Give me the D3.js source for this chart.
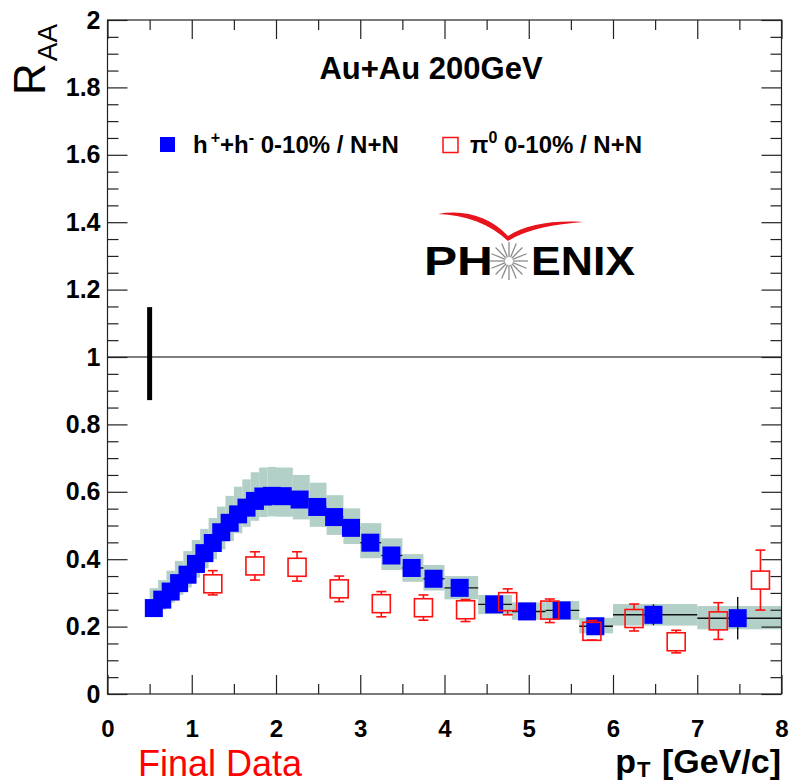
<!DOCTYPE html>
<html>
<head>
<meta charset="utf-8">
<script src="https://cdn.jsdelivr.net/npm/d3@7"></script>
<style>
  body { margin: 0; background: #fff; }
  text { font-family: "Liberation Sans", Arial, Helvetica, sans-serif; }
</style>
</head>
<body>
<svg id="chart" width="790" height="783"></svg>
<script>
// h+ + h- 0-10% / N+N  (mean pT, bin edges, RAA, stat err, sys band edges)
const hadPt    = [0.55, 0.65, 0.75, 0.85, 0.95, 1.05, 1.15, 1.25, 1.35, 1.45, 1.55, 1.65, 1.75, 1.85, 1.95, 2.08,
                  2.28, 2.49, 2.69, 2.89, 3.12, 3.37, 3.61, 3.87, 4.18, 4.59, 4.98, 5.39, 5.79, 6.48, 7.48];
const hadBinLo = [0.5, 0.6, 0.7, 0.8, 0.9, 1.0, 1.1, 1.2, 1.3, 1.4, 1.5, 1.6, 1.7, 1.8, 1.9, 2.0,
                  2.2, 2.4, 2.6, 2.8, 3.0, 3.25, 3.5, 3.75, 4.0, 4.4, 4.8, 5.2, 5.6, 6.0, 7.0];
const hadBinHi = [0.6, 0.7, 0.8, 0.9, 1.0, 1.1, 1.2, 1.3, 1.4, 1.5, 1.6, 1.7, 1.8, 1.9, 2.0, 2.2,
                  2.4, 2.6, 2.8, 3.0, 3.25, 3.5, 3.75, 4.0, 4.4, 4.8, 5.2, 5.6, 6.0, 7.0, 8.0];
const hadRaa   = [0.255, 0.280, 0.304, 0.329, 0.354, 0.386, 0.418, 0.448, 0.480, 0.508, 0.533, 0.553, 0.573, 0.586, 0.588, 0.587,
                  0.577, 0.555, 0.525, 0.493, 0.449, 0.411, 0.374, 0.342, 0.315, 0.266, 0.245, 0.248, 0.201, 0.235, 0.225];
const hadStat  = [0.004, 0.004, 0.004, 0.004, 0.004, 0.004, 0.005, 0.005, 0.005, 0.005, 0.005, 0.006, 0.006, 0.006, 0.006, 0.005,
                  0.006, 0.006, 0.006, 0.007, 0.007, 0.008, 0.009, 0.010, 0.008, 0.010, 0.012, 0.015, 0.020, 0.031, 0.063];
const hadSysHi = [0.314, 0.338, 0.366, 0.395, 0.424, 0.457, 0.490, 0.522, 0.556, 0.588, 0.615, 0.637, 0.658, 0.672, 0.674, 0.672,
                  0.650, 0.627, 0.590, 0.551, 0.507, 0.462, 0.415, 0.383, 0.350, 0.294, 0.272, 0.276, 0.226, 0.267, 0.261];
const hadSysLo = [0.228, 0.250, 0.271, 0.294, 0.316, 0.345, 0.373, 0.400, 0.429, 0.454, 0.477, 0.496, 0.514, 0.525, 0.527, 0.526,
                  0.518, 0.496, 0.472, 0.445, 0.403, 0.368, 0.333, 0.307, 0.281, 0.237, 0.220, 0.220, 0.180, 0.203, 0.192];

// pi0 0-10% / N+N
const pi0Pt    = [1.25, 1.75, 2.25, 2.75, 3.25, 3.75, 4.25, 4.75, 5.25, 5.75, 6.25, 6.75, 7.25, 7.75];
const pi0Raa   = [0.327, 0.380, 0.376, 0.312, 0.268, 0.256, 0.250, 0.274, 0.249, 0.186, 0.224, 0.155, 0.217, 0.338];
const pi0ErrHi = [0.366, 0.422, 0.422, 0.350, 0.304, 0.294, 0.280, 0.312, 0.282, 0.218, 0.267, 0.189, 0.271, 0.427];
const pi0ErrLo = [0.294, 0.338, 0.335, 0.274, 0.229, 0.219, 0.215, 0.235, 0.212, 0.160, 0.187, 0.122, 0.162, 0.249];

// normalisation uncertainty at RAA = 1
const normPt = 0.5;
const normLo = 0.872;
const normHi = 1.148;

const xTicks = [0, 1, 2, 3, 4, 5, 6, 7, 8];
const yTicks = [0, 0.2, 0.4, 0.6, 0.8, 1, 1.2, 1.4, 1.6, 1.8, 2];

const svg = d3.select('#chart');
const plotLeft = 107.5, plotRight = 781.5, plotTop = 20, plotBottom = 694;

const x = d3.scaleLinear().domain([0, 8]).range([plotLeft, plotRight]);
const y = d3.scaleLinear().domain([0, 2]).range([plotBottom, plotTop]);

const had = hadPt.map((pt, i) => ({
  pt, lo: hadBinLo[i], hi: hadBinHi[i], raa: hadRaa[i], stat: hadStat[i], sysHi: hadSysHi[i], sysLo: hadSysLo[i]
}));
const pi0 = pi0Pt.map((pt, i) => ({ pt, raa: pi0Raa[i], hi: pi0ErrHi[i], lo: pi0ErrLo[i] }));

// systematic bands
svg.append('g').selectAll('rect')
  .data(had)
  .enter()
  .append('rect')
  .attr('x', d => x(d.lo))
  .attr('y', d => y(d.sysHi))
  .attr('width', d => x(d.hi) - x(d.lo))
  .attr('height', d => y(d.sysLo) - y(d.sysHi))
  .attr('fill', '#b3d0c8');

// line at 1
svg.append('line')
  .attr('x1', x(0)).attr('x2', x(8))
  .attr('y1', y(1)).attr('y2', y(1))
  .attr('stroke', '#000').attr('stroke-width', 1.2);

svg.append('line')
  .attr('x1', x(normPt)).attr('x2', x(normPt))
  .attr('y1', y(normLo)).attr('y2', y(normHi))
  .attr('stroke', '#000').attr('stroke-width', 5);

// x bin widths and stat errors
const errs = svg.append('g').attr('stroke', '#111').attr('stroke-width', 1.4);
errs.selectAll('.xerr')
  .data(had)
  .enter()
  .append('line')
  .attr('x1', d => x(d.lo)).attr('x2', d => x(d.hi))
  .attr('y1', d => y(d.raa)).attr('y2', d => y(d.raa));
errs.selectAll('.yerr')
  .data(had)
  .enter()
  .append('line')
  .attr('x1', d => x(d.pt)).attr('x2', d => x(d.pt))
  .attr('y1', d => y(d.raa - d.stat)).attr('y2', d => y(d.raa + d.stat));

const sq = 18;

svg.append('g').selectAll('rect')
  .data(had)
  .enter()
  .append('rect')
  .attr('x', d => x(d.pt) - sq / 2)
  .attr('y', d => y(d.raa) - sq / 2)
  .attr('width', sq).attr('height', sq)
  .attr('fill', '#0000ff');

// pi0 open squares with error bars
const pg = svg.append('g').attr('stroke', '#ff1010').attr('stroke-width', 1.6).attr('fill', 'none');
const p = pg.selectAll('g').data(pi0).enter().append('g');
p.append('rect')
  .attr('x', d => x(d.pt) - sq / 2)
  .attr('y', d => y(d.raa) - sq / 2)
  .attr('width', sq).attr('height', sq);
p.append('line')
  .attr('x1', d => x(d.pt)).attr('x2', d => x(d.pt))
  .attr('y1', d => y(d.hi)).attr('y2', d => Math.max(y(d.hi), y(d.raa) - sq / 2));
p.append('line')
  .attr('x1', d => x(d.pt)).attr('x2', d => x(d.pt))
  .attr('y1', d => y(d.lo)).attr('y2', d => Math.min(y(d.lo), y(d.raa) + sq / 2));
p.append('line')
  .attr('x1', d => x(d.pt) - 5).attr('x2', d => x(d.pt) + 5)
  .attr('y1', d => y(d.hi)).attr('y2', d => y(d.hi));
p.append('line')
  .attr('x1', d => x(d.pt) - 5).attr('x2', d => x(d.pt) + 5)
  .attr('y1', d => y(d.lo)).attr('y2', d => y(d.lo));

// frame and ticks
svg.append('rect')
  .attr('x', plotLeft).attr('y', plotTop)
  .attr('width', plotRight - plotLeft).attr('height', plotBottom - plotTop)
  .attr('fill', 'none').attr('stroke', '#222').attr('stroke-width', 1.2);

function styleAxis(g) {
  g.select('.domain').remove();
  g.selectAll('.tick line').attr('stroke', '#222').attr('stroke-width', 1.2);
  g.selectAll('.tick text')
    .attr('fill', '#000')
    .style('font-size', '25px')
    .style('font-weight', 'bold')
    .style('font-family', '"Liberation Sans", Arial, sans-serif');
}

const xMinor = d3.range(0.5, 8, 1);
const yMinor = y.ticks(40).filter(v => yTicks.indexOf(+v.toFixed(2)) < 0);

svg.append('g').attr('transform', `translate(0,${plotBottom})`)
  .call(d3.axisBottom(x).tickValues(xTicks).tickSize(-19).tickPadding(26).tickFormat(d3.format('d')))
  .call(styleAxis)
  .call(g => g.selectAll('.tick text').style('font-size', '24px'));
svg.append('g').attr('transform', `translate(0,${plotBottom})`)
  .call(d3.axisBottom(x).tickValues(xMinor).tickSize(-10).tickFormat(''))
  .call(styleAxis);
svg.append('g').attr('transform', `translate(0,${plotTop})`)
  .call(d3.axisTop(x).tickValues(xTicks).tickSize(-19).tickFormat(''))
  .call(styleAxis);
svg.append('g').attr('transform', `translate(0,${plotTop})`)
  .call(d3.axisTop(x).tickValues(xMinor).tickSize(-10).tickFormat(''))
  .call(styleAxis);

svg.append('g').attr('transform', `translate(${plotLeft},0)`)
  .call(d3.axisLeft(y).tickValues(yTicks).tickSize(-20).tickPadding(7).tickFormat(d => String(d)))
  .call(styleAxis);
svg.append('g').attr('transform', `translate(${plotLeft},0)`)
  .call(d3.axisLeft(y).tickValues(yMinor).tickSize(-11).tickFormat(''))
  .call(styleAxis);
svg.append('g').attr('transform', `translate(${plotRight},0)`)
  .call(d3.axisRight(y).tickValues(yTicks).tickSize(-20).tickFormat(''))
  .call(styleAxis);
svg.append('g').attr('transform', `translate(${plotRight},0)`)
  .call(d3.axisRight(y).tickValues(yMinor).tickSize(-11).tickFormat(''))
  .call(styleAxis);

// axis titles
const ytitle = svg.append('text')
  .attr('transform', 'translate(45,95) rotate(-90)')
  .attr('fill', '#000')
  .style('font-size', '44px');
ytitle.append('tspan').text('R');
ytitle.append('tspan').attr('dy', 12).attr('dx', 2).style('font-size', '28px').text('AA');

const xtitle = svg.append('text')
  .attr('x', 781).attr('y', 773)
  .attr('text-anchor', 'end')
  .attr('fill', '#000')
  .style('font-size', '34px')
  .style('font-weight', 'bold');
xtitle.append('tspan').text('p');
xtitle.append('tspan').attr('dy', 4).attr('dx', 1).style('font-size', '22px').text('T');
xtitle.append('tspan').attr('dy', -4).attr('dx', 2).text(' [GeV/c]');

svg.append('text')
  .attr('x', 138).attr('y', 776)
  .attr('fill', '#ff0000')
  .style('font-size', '36px')
  .text('Final Data');

svg.append('text')
  .attr('x', 431).attr('y', 79)
  .attr('text-anchor', 'middle')
  .style('font-size', '31px')
  .style('font-weight', 'bold')
  .text('Au+Au 200GeV');

// legend
svg.append('rect').attr('x', 160).attr('y', 137).attr('width', 15).attr('height', 15).attr('fill', '#0000ff');
const l1 = svg.append('text').attr('x', 193).attr('y', 153).style('font-size', '24px').style('font-weight', 'bold');
l1.append('tspan').text('h');
l1.append('tspan').attr('dx', 3).attr('dy', -10).style('font-size', '16px').text('+');
l1.append('tspan').attr('dy', 10).text('+h');
l1.append('tspan').attr('dy', -10).style('font-size', '16px').text('-');
l1.append('tspan').attr('dy', 10).text(' 0-10% / N+N');

svg.append('rect').attr('x', 443).attr('y', 137.5).attr('width', 15).attr('height', 15)
  .attr('fill', '#fff').attr('stroke', '#ff1010').attr('stroke-width', 1.5);
const l2 = svg.append('text').attr('x', 470).attr('y', 153).style('font-size', '24px').style('font-weight', 'bold');
l2.append('tspan').text('\u03c0');
l2.append('tspan').attr('dy', -10).style('font-size', '16px').text('0');
l2.append('tspan').attr('dy', 10).text(' 0-10% / N+N');

// PHENIX logo
const logo = svg.append('g');
logo.append('path')
  .attr('d', 'M438,214 C465,209 490,217 508,236 C526,224 555,220 583,222 C555,224 527,229 508,241 C490,224 466,215 438,214 Z')
  .attr('fill', '#e8141c');
logo.append('text').attr('x', 424).attr('y', 275)
  .attr('textLength', 69).attr('lengthAdjust', 'spacingAndGlyphs')
  .style('font-size', '40px').style('font-weight', 'bold').text('PH');
logo.append('text').attr('x', 531).attr('y', 275)
  .attr('textLength', 104).attr('lengthAdjust', 'spacingAndGlyphs')
  .style('font-size', '40px').style('font-weight', 'bold').text('ENIX');
const spokes = d3.range(0, 360, 22.5);
logo.append('g').selectAll('line')
  .data(spokes)
  .enter()
  .append('line')
  .attr('x1', a => 509 + 4 * Math.cos(a * Math.PI / 180))
  .attr('y1', a => 261 + 4 * Math.sin(a * Math.PI / 180))
  .attr('x2', a => 509 + 19 * Math.cos(a * Math.PI / 180))
  .attr('y2', a => 261 + 19 * Math.sin(a * Math.PI / 180))
  .attr('stroke', '#8c8c8c').attr('stroke-width', 1.3);
</script>
</body>
</html>
